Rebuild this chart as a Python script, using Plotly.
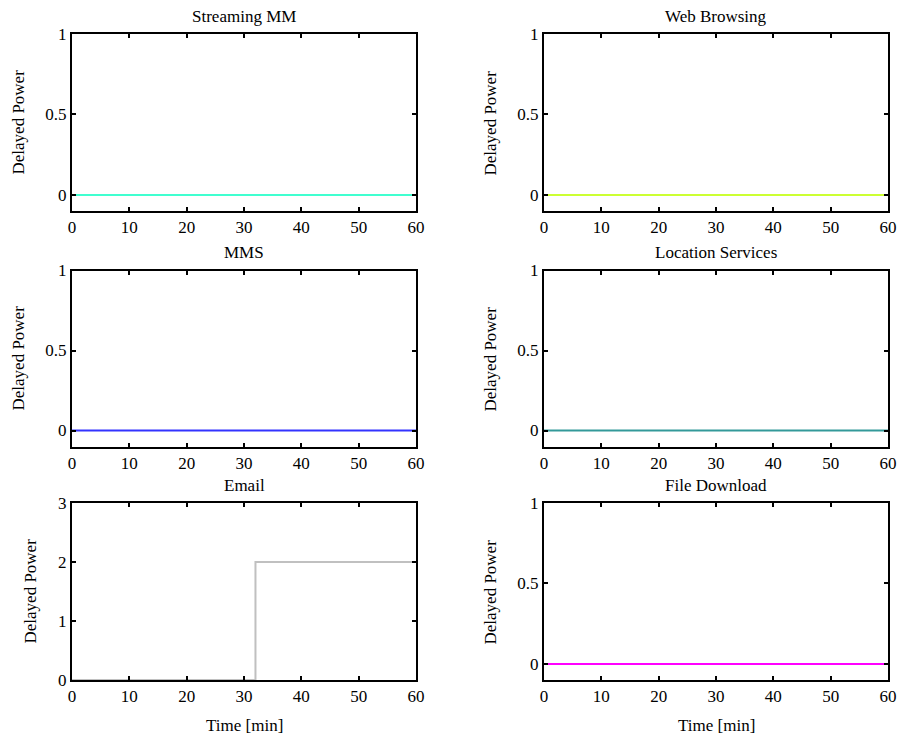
import plotly.graph_objects as go

# Delayed power per service over one hour of simulated time
time_min = [0, 60]
streaming_mm = [0, 0]
web_browsing = [0, 0]
mms = [0, 0]
location_services = [0, 0]
file_download = [0, 0]

email_time = [0, 32, 60]
email_power = [0, 2, 2]

titles = ["Streaming MM", "Web Browsing", "MMS", "Location Services", "Email", "File Download"]
colors = ["#40ffd0", "#ccff33", "#3333ff", "#339999", "#c0c0c0", "#ff00ff"]
series = [
    (time_min, streaming_mm),
    (time_min, web_browsing),
    (time_min, mms),
    (time_min, location_services),
    (email_time, email_power),
    (time_min, file_download),
]

W, H = 900, 738
FONT = "Times New Roman, Liberation Serif, DejaVu Serif, serif"
FS = 17

# panel boxes in pixels: (left, right, top, bottom)
cols = [(72, 416), (544, 888)]
rows = [(34, 211), (270.5, 446.5), (503, 680)]

fig = go.Figure()
annotations = []

for i, (title, color, (xs, ys)) in enumerate(zip(titles, colors, series)):
    r, c = divmod(i, 2)
    x0, x1 = cols[c]
    y0, y1 = rows[r]
    n = "" if i == 0 else str(i + 1)
    is_email = title == "Email"
    fig.add_trace(go.Scatter(
        x=xs, y=ys, mode="lines",
        line=dict(color=color, width=2, shape="hv" if is_email else "linear"),
        xaxis="x" + n, yaxis="y" + n, showlegend=False, hoverinfo="skip",
    ))
    axis_common = dict(
        showline=True, linecolor="black", linewidth=2, mirror="ticks",
        ticks="inside", ticklen=4, tickwidth=1.5, tickcolor="black",
        showgrid=False, zeroline=False, automargin=False,
        tickfont=dict(family=FONT, size=FS, color="black"),
    )
    fig.layout["xaxis" + n] = dict(
        axis_common, domain=[x0 / W, x1 / W], range=[0, 60],
        tickvals=[0, 10, 20, 30, 40, 50, 60], anchor="y" + n,
    )
    if is_email:
        yrange, yticks, ytext = [0, 3], [0, 1, 2, 3], ["0", "1", "2", "3"]
    else:
        yrange, yticks, ytext = [-0.1, 1], [0, 0.5, 1], ["0", "0.5", "1"]
    fig.layout["yaxis" + n] = dict(
        axis_common, domain=[1 - y1 / H, 1 - y0 / H], range=yrange,
        tickvals=yticks, ticktext=ytext, anchor="x" + n,
    )

    # panel title
    annotations.append(dict(
        text=title, x=(x0 + x1) / 2 / W, y=1 - (y0 - 18) / H,
        xref="paper", yref="paper", xanchor="center", yanchor="middle",
        showarrow=False, font=dict(family=FONT, size=FS, color="black"),
    ))
    # y-axis label
    lx = (30 if is_email else 18) if c == 0 else 490
    annotations.append(dict(
        text="Delayed Power", x=lx / W, y=1 - (y0 + y1) / 2 / H,
        xref="paper", yref="paper", xanchor="center", yanchor="middle",
        textangle=-90, showarrow=False,
        font=dict(family=FONT, size=FS, color="black"),
    ))
    # x-axis label on the bottom row
    if r == 2:
        annotations.append(dict(
            text="Time [min]", x=(x0 + x1) / 2 / W, y=1 - 725 / H,
            xref="paper", yref="paper", xanchor="center", yanchor="middle",
            showarrow=False, font=dict(family=FONT, size=FS, color="black"),
        ))

fig.update_layout(
    width=W, height=H, margin=dict(l=0, r=0, t=0, b=0),
    paper_bgcolor="white", plot_bgcolor="white",
    font=dict(family=FONT, size=FS, color="black"),
    annotations=annotations,
)

fig.write_html("out.html")
